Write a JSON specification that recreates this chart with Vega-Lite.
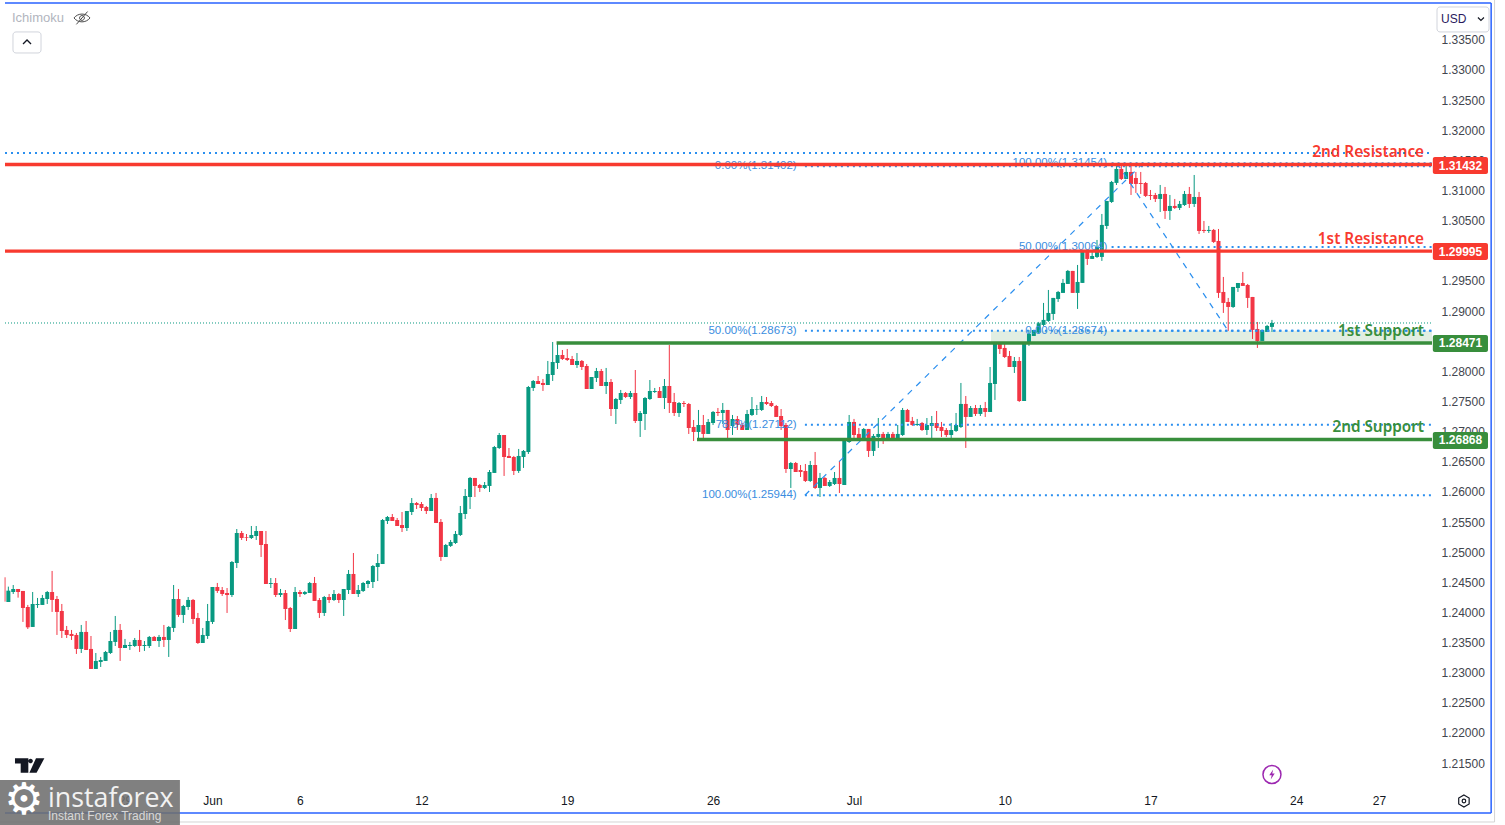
{"$schema":"https://vega.github.io/schema/vega-lite/v6.json","width":1505,"height":825,"padding":0,"autosize":{"type":"none"},"background":"#ffffff","view":{"stroke":null},
"config":{"axis":{"grid":false,"ticks":false,"domain":false}},
"datasets":{
"candles":[
{"i":1,"o":1.24583,"h":1.24594,"l":1.24179,"c":1.24179},{"i":2,"o":1.24173,"h":1.24428,"l":1.24173,"c":1.24361},{"i":3,"o":1.24339,"h":1.24455,"l":1.24306,"c":1.24389},{"i":4,"o":1.24389,"h":1.24389,"l":1.24245,"c":1.24339},{"i":5,"o":1.24356,"h":1.24356,"l":1.23842,"c":1.24074},{"i":6,"o":1.2409,"h":1.24124,"l":1.23725,"c":1.23753},{"i":7,"o":1.23759,"h":1.24339,"l":1.23759,"c":1.2414},{"i":8,"o":1.24124,"h":1.2424,"l":1.24074,"c":1.2414},{"i":9,"o":1.24124,"h":1.2429,"l":1.24124,"c":1.2424},{"i":10,"o":1.24223,"h":1.24356,"l":1.2414,"c":1.24339},
{"i":11,"o":1.24339,"h":1.24688,"l":1.24008,"c":1.24207},{"i":12,"o":1.24223,"h":1.24273,"l":1.23626,"c":1.24008},{"i":13,"o":1.24024,"h":1.2414,"l":1.23576,"c":1.23692},{"i":14,"o":1.23709,"h":1.23775,"l":1.23576,"c":1.23626},{"i":15,"o":1.23643,"h":1.23709,"l":1.23543,"c":1.23609},{"i":16,"o":1.23626,"h":1.23659,"l":1.23311,"c":1.23394},{"i":17,"o":1.23394,"h":1.23792,"l":1.23327,"c":1.23676},{"i":18,"o":1.23676,"h":1.23858,"l":1.23377,"c":1.23377},{"i":19,"o":1.23394,"h":1.23609,"l":1.23062,"c":1.23062},{"i":20,"o":1.23062,"h":1.23327,"l":1.23062,"c":1.23195},
{"i":21,"o":1.23178,"h":1.23261,"l":1.23095,"c":1.23211},{"i":22,"o":1.23195,"h":1.23361,"l":1.23195,"c":1.23344},{"i":23,"o":1.23327,"h":1.23676,"l":1.23311,"c":1.23526},{"i":24,"o":1.2351,"h":1.23941,"l":1.23443,"c":1.23709},{"i":25,"o":1.23709,"h":1.23808,"l":1.23195,"c":1.2341},{"i":26,"o":1.2341,"h":1.2356,"l":1.2341,"c":1.2346},{"i":27,"o":1.23443,"h":1.2351,"l":1.23377,"c":1.2346},{"i":28,"o":1.23443,"h":1.23576,"l":1.23427,"c":1.23543},{"i":29,"o":1.23543,"h":1.23709,"l":1.23344,"c":1.23443},{"i":30,"o":1.23443,"h":1.23526,"l":1.23361,"c":1.2346},
{"i":31,"o":1.23443,"h":1.23609,"l":1.2341,"c":1.23593},{"i":32,"o":1.23593,"h":1.23609,"l":1.23526,"c":1.23526},{"i":33,"o":1.23526,"h":1.23626,"l":1.23427,"c":1.23593},{"i":34,"o":1.23593,"h":1.23792,"l":1.23427,"c":1.23543},{"i":35,"o":1.23543,"h":1.23775,"l":1.23261,"c":1.23759},{"i":36,"o":1.23742,"h":1.24455,"l":1.23676,"c":1.24223},{"i":37,"o":1.24223,"h":1.24389,"l":1.23925,"c":1.23958},{"i":38,"o":1.23958,"h":1.24124,"l":1.23825,"c":1.24107},{"i":39,"o":1.2409,"h":1.24256,"l":1.24041,"c":1.24207},{"i":40,"o":1.24207,"h":1.24223,"l":1.23808,"c":1.23891},
{"i":41,"o":1.23908,"h":1.23991,"l":1.23477,"c":1.23493},{"i":42,"o":1.23493,"h":1.23742,"l":1.23493,"c":1.23626},{"i":43,"o":1.23609,"h":1.2414,"l":1.2356,"c":1.23858},{"i":44,"o":1.23842,"h":1.24422,"l":1.23808,"c":1.24422},{"i":45,"o":1.24422,"h":1.24489,"l":1.24323,"c":1.24356},{"i":46,"o":1.24372,"h":1.24422,"l":1.24273,"c":1.24306},{"i":47,"o":1.24322,"h":1.24405,"l":1.23991,"c":1.24289},{"i":48,"o":1.24289,"h":1.24853,"l":1.24256,"c":1.24837},{"i":49,"o":1.2482,"h":1.25384,"l":1.24737,"c":1.25318},{"i":50,"o":1.25318,"h":1.25351,"l":1.25202,"c":1.25235},
{"i":51,"o":1.25251,"h":1.25301,"l":1.25185,"c":1.2524},{"i":52,"o":1.25235,"h":1.25434,"l":1.25218,"c":1.25285},{"i":53,"o":1.25268,"h":1.25434,"l":1.25202,"c":1.25351},{"i":54,"o":1.25351,"h":1.25351,"l":1.2492,"c":1.25119},{"i":55,"o":1.25135,"h":1.25351,"l":1.24472,"c":1.24472},{"i":56,"o":1.24472,"h":1.24571,"l":1.24405,"c":1.24488},{"i":57,"o":1.24488,"h":1.24571,"l":1.24256,"c":1.24289},{"i":58,"o":1.24289,"h":1.24389,"l":1.24256,"c":1.24322},{"i":59,"o":1.24322,"h":1.24372,"l":1.23874,"c":1.24057},{"i":60,"o":1.24073,"h":1.2409,"l":1.23675,"c":1.23725},
{"i":61,"o":1.23725,"h":1.24422,"l":1.23725,"c":1.24339},{"i":62,"o":1.24339,"h":1.24372,"l":1.24256,"c":1.24306},{"i":63,"o":1.24306,"h":1.24356,"l":1.24289,"c":1.24339},{"i":64,"o":1.24322,"h":1.24505,"l":1.24322,"c":1.24488},{"i":65,"o":1.24488,"h":1.24588,"l":1.2419,"c":1.2419},{"i":66,"o":1.24206,"h":1.24239,"l":1.23908,"c":1.23991},{"i":67,"o":1.23991,"h":1.24273,"l":1.23941,"c":1.24256},{"i":68,"o":1.24256,"h":1.24306,"l":1.24156,"c":1.24206},{"i":69,"o":1.24206,"h":1.24372,"l":1.2419,"c":1.24306},{"i":70,"o":1.24306,"h":1.24322,"l":1.24156,"c":1.24206},
{"i":71,"o":1.24206,"h":1.24389,"l":1.23941,"c":1.24389},{"i":72,"o":1.24372,"h":1.24704,"l":1.24306,"c":1.24638},{"i":73,"o":1.24638,"h":1.24986,"l":1.24306,"c":1.24306},{"i":74,"o":1.24306,"h":1.24455,"l":1.24256,"c":1.24372},{"i":75,"o":1.24356,"h":1.24505,"l":1.24339,"c":1.24488},{"i":76,"o":1.24472,"h":1.24538,"l":1.24405,"c":1.24521},{"i":77,"o":1.24505,"h":1.24787,"l":1.24405,"c":1.2477},{"i":78,"o":1.24754,"h":1.24969,"l":1.24521,"c":1.2482},{"i":79,"o":1.24803,"h":1.2555,"l":1.24803,"c":1.25533},{"i":80,"o":1.25517,"h":1.256,"l":1.25467,"c":1.25583},
{"i":81,"o":1.25583,"h":1.25633,"l":1.25517,"c":1.25517},{"i":82,"o":1.25533,"h":1.25567,"l":1.25434,"c":1.25434},{"i":83,"o":1.2545,"h":1.25666,"l":1.25334,"c":1.25401},{"i":84,"o":1.25401,"h":1.25683,"l":1.25351,"c":1.25683},{"i":85,"o":1.25666,"h":1.25898,"l":1.25616,"c":1.25815},{"i":86,"o":1.25815,"h":1.25832,"l":1.25716,"c":1.25782},{"i":87,"o":1.25799,"h":1.25832,"l":1.25683,"c":1.25732},{"i":88,"o":1.25749,"h":1.25766,"l":1.25633,"c":1.25683},{"i":89,"o":1.25683,"h":1.25965,"l":1.25683,"c":1.25899},{"i":90,"o":1.25899,"h":1.25982,"l":1.25484,"c":1.25484},
{"i":91,"o":1.25501,"h":1.2555,"l":1.24854,"c":1.2492},{"i":92,"o":1.2492,"h":1.25136,"l":1.2492,"c":1.25119},{"i":93,"o":1.25103,"h":1.25202,"l":1.25086,"c":1.25169},{"i":94,"o":1.25152,"h":1.25351,"l":1.25136,"c":1.25302},{"i":95,"o":1.25285,"h":1.25766,"l":1.25268,"c":1.2565},{"i":96,"o":1.25633,"h":1.26048,"l":1.2555,"c":1.25932},{"i":97,"o":1.25915,"h":1.26247,"l":1.25716,"c":1.26231},{"i":98,"o":1.26231,"h":1.26231,"l":1.25915,"c":1.26098},{"i":99,"o":1.26114,"h":1.26131,"l":1.25998,"c":1.26065},{"i":100,"o":1.26065,"h":1.26164,"l":1.26048,"c":1.26114},
{"i":101,"o":1.26098,"h":1.26363,"l":1.25998,"c":1.2633},{"i":102,"o":1.26314,"h":1.26762,"l":1.26314,"c":1.26745},{"i":103,"o":1.26728,"h":1.26977,"l":1.26712,"c":1.26944},{"i":104,"o":1.26944,"h":1.26944,"l":1.26264,"c":1.26579},{"i":105,"o":1.26596,"h":1.26728,"l":1.26562,"c":1.26562},{"i":106,"o":1.26579,"h":1.26596,"l":1.2628,"c":1.26347},{"i":107,"o":1.26347,"h":1.26712,"l":1.26314,"c":1.26596},{"i":108,"o":1.26579,"h":1.26695,"l":1.26397,"c":1.26679},{"i":109,"o":1.26662,"h":1.27757,"l":1.26629,"c":1.2774},{"i":110,"o":1.27724,"h":1.27856,"l":1.27674,"c":1.2784},
{"i":111,"o":1.2784,"h":1.27923,"l":1.2779,"c":1.2779},{"i":112,"o":1.27807,"h":1.27873,"l":1.27674,"c":1.27773},{"i":113,"o":1.27773,"h":1.28172,"l":1.27773,"c":1.27956},{"i":114,"o":1.27939,"h":1.28487,"l":1.2784,"c":1.28155},{"i":115,"o":1.28138,"h":1.28487,"l":1.28039,"c":1.28271},{"i":116,"o":1.28271,"h":1.28354,"l":1.28188,"c":1.28205},{"i":117,"o":1.28221,"h":1.28371,"l":1.28172,"c":1.28188},{"i":118,"o":1.28205,"h":1.28255,"l":1.28105,"c":1.28105},{"i":119,"o":1.28105,"h":1.28304,"l":1.28056,"c":1.28172},{"i":120,"o":1.28172,"h":1.28188,"l":1.28022,"c":1.28072},
{"i":121,"o":1.28089,"h":1.28122,"l":1.27707,"c":1.27707},{"i":122,"o":1.27707,"h":1.27906,"l":1.27707,"c":1.27906},{"i":123,"o":1.2789,"h":1.28056,"l":1.27823,"c":1.28006},{"i":124,"o":1.28006,"h":1.28039,"l":1.27757,"c":1.27757},{"i":125,"o":1.27757,"h":1.28056,"l":1.27624,"c":1.27823},{"i":126,"o":1.27823,"h":1.27873,"l":1.27259,"c":1.27375},{"i":127,"o":1.27375,"h":1.27558,"l":1.27126,"c":1.27541},{"i":128,"o":1.27525,"h":1.27691,"l":1.27458,"c":1.27641},{"i":129,"o":1.27641,"h":1.27657,"l":1.27558,"c":1.27574},{"i":130,"o":1.27574,"h":1.27674,"l":1.27541,"c":1.27641},
{"i":131,"o":1.27641,"h":1.28022,"l":1.27143,"c":1.27176},{"i":132,"o":1.27176,"h":1.27342,"l":1.26911,"c":1.27309},{"i":133,"o":1.27292,"h":1.27574,"l":1.27027,"c":1.27558},{"i":134,"o":1.27541,"h":1.27856,"l":1.27525,"c":1.27674},{"i":135,"o":1.27657,"h":1.27724,"l":1.27641,"c":1.27674},{"i":136,"o":1.27674,"h":1.2774,"l":1.27558,"c":1.27558},{"i":137,"o":1.27558,"h":1.27873,"l":1.27375,"c":1.27757},{"i":138,"o":1.27757,"h":1.28437,"l":1.27309,"c":1.27475},{"i":139,"o":1.27491,"h":1.27641,"l":1.27259,"c":1.27309},{"i":140,"o":1.27309,"h":1.27491,"l":1.27243,"c":1.27475},
{"i":141,"o":1.27475,"h":1.27508,"l":1.27408,"c":1.27458},{"i":142,"o":1.27458,"h":1.27475,"l":1.26961,"c":1.2706},{"i":143,"o":1.27077,"h":1.27193,"l":1.26844,"c":1.26994},{"i":144,"o":1.26994,"h":1.27359,"l":1.26878,"c":1.2711},{"i":145,"o":1.2711,"h":1.27276,"l":1.26878,"c":1.26961},{"i":146,"o":1.26961,"h":1.27209,"l":1.26961,"c":1.2716},{"i":147,"o":1.27143,"h":1.27342,"l":1.2711,"c":1.27326},{"i":148,"o":1.27326,"h":1.27392,"l":1.27259,"c":1.27309},{"i":149,"o":1.27309,"h":1.27475,"l":1.27126,"c":1.27359},{"i":150,"o":1.27359,"h":1.27359,"l":1.26878,"c":1.27027},
{"i":151,"o":1.27093,"h":1.27276,"l":1.26944,"c":1.27209},{"i":152,"o":1.27209,"h":1.27259,"l":1.27027,"c":1.2711},{"i":153,"o":1.2711,"h":1.27143,"l":1.27027,"c":1.27027},{"i":154,"o":1.27027,"h":1.27359,"l":1.27027,"c":1.27292},{"i":155,"o":1.27276,"h":1.27574,"l":1.27259,"c":1.27375},{"i":156,"o":1.27365,"h":1.27442,"l":1.27276,"c":1.27375},{"i":157,"o":1.27359,"h":1.27591,"l":1.27342,"c":1.27491},{"i":158,"o":1.27491,"h":1.27574,"l":1.27442,"c":1.27458},{"i":159,"o":1.27475,"h":1.27508,"l":1.27408,"c":1.27425},{"i":160,"o":1.27425,"h":1.27442,"l":1.27243,"c":1.27243},
{"i":161,"o":1.27259,"h":1.27375,"l":1.27027,"c":1.27093},{"i":162,"o":1.2711,"h":1.27143,"l":1.26314,"c":1.2638},{"i":163,"o":1.2638,"h":1.26496,"l":1.26065,"c":1.26479},{"i":164,"o":1.26479,"h":1.26496,"l":1.2633,"c":1.2633},{"i":165,"o":1.26363,"h":1.26446,"l":1.26247,"c":1.2633},{"i":166,"o":1.26347,"h":1.26463,"l":1.26164,"c":1.26181},{"i":167,"o":1.26181,"h":1.26513,"l":1.26164,"c":1.26446},{"i":168,"o":1.26446,"h":1.26662,"l":1.26048,"c":1.26065},{"i":169,"o":1.26065,"h":1.26314,"l":1.25915,"c":1.26231},{"i":170,"o":1.26231,"h":1.26247,"l":1.26098,"c":1.26098},
{"i":171,"o":1.26098,"h":1.26197,"l":1.26081,"c":1.26164},{"i":172,"o":1.26131,"h":1.2633,"l":1.26114,"c":1.26231},{"i":173,"o":1.26231,"h":1.26513,"l":1.25982,"c":1.26131},{"i":174,"o":1.26114,"h":1.26878,"l":1.26114,"c":1.26878},{"i":175,"o":1.26828,"h":1.27276,"l":1.26812,"c":1.2716},{"i":176,"o":1.2716,"h":1.2721,"l":1.26894,"c":1.26944},{"i":177,"o":1.26961,"h":1.2706,"l":1.26878,"c":1.26878},{"i":178,"o":1.26878,"h":1.2706,"l":1.26878,"c":1.27044},{"i":179,"o":1.27044,"h":1.27044,"l":1.26579,"c":1.26679},{"i":180,"o":1.26679,"h":1.26961,"l":1.26596,"c":1.26928},
{"i":181,"o":1.26911,"h":1.27226,"l":1.26729,"c":1.26961},{"i":182,"o":1.26961,"h":1.26994,"l":1.26795,"c":1.26861},{"i":183,"o":1.26861,"h":1.26994,"l":1.26861,"c":1.26961},{"i":184,"o":1.26961,"h":1.26994,"l":1.26845,"c":1.26845},{"i":185,"o":1.26845,"h":1.2711,"l":1.26845,"c":1.26961},{"i":186,"o":1.26944,"h":1.27392,"l":1.26928,"c":1.27359},{"i":187,"o":1.27359,"h":1.27376,"l":1.2716,"c":1.2716},{"i":188,"o":1.27177,"h":1.27243,"l":1.27094,"c":1.2711},{"i":189,"o":1.2711,"h":1.2721,"l":1.27094,"c":1.27127},{"i":190,"o":1.27143,"h":1.2716,"l":1.27011,"c":1.27027},
{"i":191,"o":1.27027,"h":1.27226,"l":1.26944,"c":1.2711},{"i":192,"o":1.27094,"h":1.27259,"l":1.26878,"c":1.27143},{"i":193,"o":1.27143,"h":1.27342,"l":1.27011,"c":1.2706},{"i":194,"o":1.27077,"h":1.2716,"l":1.26911,"c":1.27011},{"i":195,"o":1.27027,"h":1.2706,"l":1.26911,"c":1.26944},{"i":196,"o":1.26944,"h":1.27143,"l":1.26894,"c":1.27027},{"i":197,"o":1.27011,"h":1.27309,"l":1.26994,"c":1.2711},{"i":198,"o":1.27077,"h":1.27807,"l":1.2706,"c":1.27459},{"i":199,"o":1.27459,"h":1.27591,"l":1.26729,"c":1.27243},{"i":200,"o":1.27243,"h":1.27425,"l":1.27243,"c":1.27392},
{"i":201,"o":1.27392,"h":1.27442,"l":1.27259,"c":1.27293},{"i":202,"o":1.27293,"h":1.27442,"l":1.27259,"c":1.27392},{"i":203,"o":1.27392,"h":1.27492,"l":1.27243,"c":1.27326},{"i":204,"o":1.27326,"h":1.28072,"l":1.27326,"c":1.27807},{"i":205,"o":1.2779,"h":1.28487,"l":1.27525,"c":1.28471},{"i":206,"o":1.28487,"h":1.28487,"l":1.28288,"c":1.28371},{"i":207,"o":1.28388,"h":1.28487,"l":1.28222,"c":1.28238},{"i":208,"o":1.28255,"h":1.28338,"l":1.28072,"c":1.28072},{"i":209,"o":1.28072,"h":1.28238,"l":1.27973,"c":1.28172},{"i":210,"o":1.28172,"h":1.28238,"l":1.27492,"c":1.27508},
{"i":211,"o":1.27508,"h":1.28471,"l":1.27508,"c":1.28454},{"i":212,"o":1.28471,"h":1.28686,"l":1.28421,"c":1.2862},{"i":213,"o":1.28587,"h":1.28686,"l":1.28587,"c":1.28686},{"i":214,"o":1.28643,"h":1.2882,"l":1.2862,"c":1.28797},{"i":215,"o":1.2877,"h":1.29135,"l":1.28753,"c":1.28853},{"i":216,"o":1.28836,"h":1.2935,"l":1.2882,"c":1.28969},{"i":217,"o":1.28952,"h":1.29218,"l":1.28853,"c":1.29218},{"i":218,"o":1.29201,"h":1.29334,"l":1.29151,"c":1.29317},{"i":219,"o":1.29301,"h":1.29533,"l":1.29301,"c":1.29467},{"i":220,"o":1.2945,"h":1.29682,"l":1.2945,"c":1.29666},
{"i":221,"o":1.29666,"h":1.29666,"l":1.29301,"c":1.29301},{"i":222,"o":1.29301,"h":1.29765,"l":1.29035,"c":1.29483},{"i":223,"o":1.29467,"h":1.29981,"l":1.29467,"c":1.29981},{"i":224,"o":1.29981,"h":1.29997,"l":1.29765,"c":1.29865},{"i":225,"o":1.29865,"h":1.29997,"l":1.29865,"c":1.29914},{"i":226,"o":1.29898,"h":1.3018,"l":1.29881,"c":1.30064},{"i":227,"o":1.29898,"h":1.30611,"l":1.29832,"c":1.30429},{"i":228,"o":1.30412,"h":1.30827,"l":1.30362,"c":1.30827},{"i":229,"o":1.3081,"h":1.31159,"l":1.30794,"c":1.31142},{"i":230,"o":1.31126,"h":1.31441,"l":1.31092,"c":1.31358},
{"i":231,"o":1.31358,"h":1.31441,"l":1.31175,"c":1.31192},{"i":232,"o":1.31192,"h":1.31424,"l":1.31192,"c":1.31308},{"i":233,"o":1.31308,"h":1.31424,"l":1.30926,"c":1.31109},{"i":234,"o":1.31208,"h":1.31308,"l":1.3096,"c":1.31109},{"i":235,"o":1.31125,"h":1.31308,"l":1.30943,"c":1.31109},{"i":236,"o":1.31125,"h":1.31142,"l":1.30893,"c":1.3091},{"i":237,"o":1.30926,"h":1.31009,"l":1.30843,"c":1.3091},{"i":238,"o":1.30926,"h":1.3096,"l":1.3081,"c":1.3086},{"i":239,"o":1.3086,"h":1.31092,"l":1.30644,"c":1.30943},{"i":240,"o":1.30943,"h":1.31059,"l":1.30528,"c":1.30661},
{"i":241,"o":1.30661,"h":1.30926,"l":1.30512,"c":1.30744},{"i":242,"o":1.30744,"h":1.3086,"l":1.30694,"c":1.30711},{"i":243,"o":1.30711,"h":1.30827,"l":1.30677,"c":1.30777},{"i":244,"o":1.3076,"h":1.30993,"l":1.30744,"c":1.30943},{"i":245,"o":1.30943,"h":1.31059,"l":1.30711,"c":1.30777},{"i":246,"o":1.30777,"h":1.31258,"l":1.30727,"c":1.30893},{"i":247,"o":1.30893,"h":1.30976,"l":1.30279,"c":1.30329},{"i":248,"o":1.30346,"h":1.30495,"l":1.30296,"c":1.30329},{"i":249,"o":1.30329,"h":1.30412,"l":1.30296,"c":1.30346},{"i":250,"o":1.30346,"h":1.30362,"l":1.3013,"c":1.30147},
{"i":251,"o":1.30163,"h":1.30362,"l":1.29218,"c":1.29301},{"i":252,"o":1.29317,"h":1.29566,"l":1.28969,"c":1.29135},{"i":253,"o":1.29151,"h":1.29218,"l":1.2867,"c":1.29068},{"i":254,"o":1.29068,"h":1.294,"l":1.29052,"c":1.294},{"i":255,"o":1.29383,"h":1.29466,"l":1.29317,"c":1.29466},{"i":256,"o":1.29466,"h":1.29649,"l":1.29417,"c":1.29417},{"i":257,"o":1.29433,"h":1.2945,"l":1.29052,"c":1.29218},{"i":258,"o":1.29234,"h":1.29234,"l":1.28537,"c":1.28687},{"i":259,"o":1.28703,"h":1.28819,"l":1.28388,"c":1.28504},{"i":260,"o":1.28504,"h":1.28687,"l":1.28504,"c":1.28687},
{"i":261,"o":1.28654,"h":1.2877,"l":1.28654,"c":1.28753},{"i":262,"o":1.28737,"h":1.28853,"l":1.28654,"c":1.28803}],
"levels":[
{"kind":"res","a":1.31,"b":294.93,"p":1.31432,"value":"1.31432","bl":295.1,"br":306.45,"mid":300.8,"top":1.31557,"bot":1.31274,"pm":1.31415,"name":"2nd Resistance","np":1.31639},
{"kind":"res","a":1.31,"b":294.93,"p":1.29995,"value":"1.29995","bl":295.1,"br":306.45,"mid":300.8,"top":1.3013,"bot":1.29847,"pm":1.29988,"name":"1st Resistance","np":1.30196},
{"kind":"sup","a":114.8,"b":294.93,"p":1.28471,"value":"1.28471","bl":295.1,"br":306.45,"mid":300.8,"top":1.28603,"bot":1.28321,"pm":1.28462,"name":"1st Support","np":1.28669},
{"kind":"sup","a":143.7,"b":294.93,"p":1.26868,"value":"1.26868","bl":295.1,"br":306.45,"mid":300.8,"top":1.26994,"bot":1.26712,"pm":1.26853,"name":"2nd Support","np":1.27077}],
"fib":[
{"a":165.9,"b":294.93,"p":1.31402,"label":"0.00%(1.31402)","lx":164.2},
{"a":229,"b":294.93,"p":1.31454,"label":"100.00%(1.31454)","lx":228.1},
{"a":229,"b":294.93,"p":1.30064,"label":"50.00%(1.30064)","lx":228.1},
{"a":229,"b":294.93,"p":1.28674,"label":"0.00%(1.28674)","lx":228.1},
{"a":165.9,"b":294.93,"p":1.28673,"label":"50.00%(1.28673)","lx":164.2},
{"a":165.9,"b":294.93,"p":1.27112,"label":"78.6%(1.27112)","lx":164.2},
{"a":165.9,"b":294.93,"p":1.25944,"label":"100.00%(1.25944)","lx":164.2}],
"diag":[{"a":165.9,"pa":1.25944,"b":235.5,"pb":1.31454},{"a":230.1,"pa":1.31454,"b":252.96,"pb":1.28674}]
},
"layer":[
{"data":{"values":[{"a":204.2,"b":294.93,"p1":1.28673,"p2":1.28471}]},"mark":{"type":"rect","color":"#388e3c","opacity":0.15},
"encoding":{"x":{"field":"a","type":"quantitative","title":null,"scale":{"domain":[0.28,309.95],"nice":false,"zero":false},
"axis":{"orient":"bottom","offset":-33,"tickCount":40,"values":[26,44,62,87,117,147,176,207,237,267,284],"labelExpr":"{'26':'29','44':'Jun','62':'6','87':'12','117':'19','147':'26','176':'Jul','207':'10','237':'17','267':'24','284':'27'}[''+datum.value]","labelFont":"Liberation Sans","labelFontSize":12,"labelColor":"#131722","labelPadding":3,"labelOverlap":false,"labelFlush":false,"labelBound":false,"title":null}},
"x2":{"field":"b"},
"y":{"field":"p1","type":"quantitative","title":null,"scale":{"domain":[1.20473,1.34161],"nice":false,"zero":false},
"axis":{"orient":"right","offset":-64,"tickCount":40,"values":[1.335,1.33,1.325,1.32,1.315,1.31,1.305,1.3,1.295,1.29,1.285,1.28,1.275,1.27,1.265,1.26,1.255,1.25,1.245,1.24,1.235,1.23,1.225,1.22,1.215],"format":".5f","labelFont":"Liberation Sans","labelFontSize":12,"labelColor":"#42454e","labelPadding":0,"labelAlign":"left","labelOverlap":false,"labelFlush":false,"labelBound":false,"title":null}},
"y2":{"field":"p2"}}},
{"data":{"name":"candles"},"mark":{"type":"rule","strokeWidth":1},
"encoding":{"x":{"field":"i","type":"quantitative","scale":{"domain":[0.28,309.95],"nice":false,"zero":false},"title":null},"y":{"field":"h","type":"quantitative","scale":{"domain":[1.20473,1.34161],"nice":false,"zero":false},"title":null},"y2":{"field":"l"},"color":{"condition":{"test":"datum.c>=datum.o","value":"#089981"},"value":"#f23645"}}},
{"data":{"name":"candles"},"mark":{"type":"rule","strokeWidth":4},
"encoding":{"x":{"field":"i","type":"quantitative","scale":{"domain":[0.28,309.95],"nice":false,"zero":false},"title":null},"y":{"field":"o","type":"quantitative","scale":{"domain":[1.20473,1.34161],"nice":false,"zero":false},"title":null},"y2":{"field":"c"},"color":{"condition":{"test":"datum.c>=datum.o","value":"#089981"},"value":"#f23645"}}},
{"data":{"values":[{"a":1.31,"b":294.93,"p":1.28802}]},"mark":{"type":"rule","strokeWidth":1,"strokeDash":[1,2],"color":"#089981"},
"encoding":{"x":{"field":"a","type":"quantitative","scale":{"domain":[0.28,309.95],"nice":false,"zero":false},"title":null},"x2":{"field":"b"},"y":{"field":"p","type":"quantitative","scale":{"domain":[1.20473,1.34161],"nice":false,"zero":false},"title":null}}},
{"data":{"values":[{"a":1.31,"b":294.93,"p":1.31623}]},"mark":{"type":"rule","strokeWidth":2,"strokeDash":[2,4],"color":"#2b8fef"},
"encoding":{"x":{"field":"a","type":"quantitative","scale":{"domain":[0.28,309.95],"nice":false,"zero":false},"title":null},"x2":{"field":"b"},"y":{"field":"p","type":"quantitative","scale":{"domain":[1.20473,1.34161],"nice":false,"zero":false},"title":null}}},
{"data":{"name":"fib"},"mark":{"type":"rule","strokeWidth":2,"strokeDash":[2,4],"color":"#2b8fef"},
"encoding":{"x":{"field":"a","type":"quantitative","scale":{"domain":[0.28,309.95],"nice":false,"zero":false},"title":null},"x2":{"field":"b"},"y":{"field":"p","type":"quantitative","scale":{"domain":[1.20473,1.34161],"nice":false,"zero":false},"title":null}}},
{"data":{"name":"diag"},"mark":{"type":"rule","strokeWidth":1.2,"strokeDash":[6,6],"color":"#2b8fef"},
"encoding":{"x":{"field":"a","type":"quantitative","scale":{"domain":[0.28,309.95],"nice":false,"zero":false},"title":null},"x2":{"field":"b"},"y":{"field":"pa","type":"quantitative","scale":{"domain":[1.20473,1.34161],"nice":false,"zero":false},"title":null},"y2":{"field":"pb"}}},
{"data":{"name":"fib"},"mark":{"type":"text","align":"right","baseline":"middle","font":"Liberation Sans","fontSize":11.5,"color":"#3a8de0"},
"encoding":{"x":{"field":"lx","type":"quantitative","scale":{"domain":[0.28,309.95],"nice":false,"zero":false},"title":null},"y":{"field":"p","type":"quantitative","scale":{"domain":[1.20473,1.34161],"nice":false,"zero":false},"title":null},"text":{"field":"label"}}},
{"data":{"name":"levels"},"mark":{"type":"rule","strokeWidth":3.4},
"encoding":{"x":{"field":"a","type":"quantitative","scale":{"domain":[0.28,309.95],"nice":false,"zero":false},"title":null},"x2":{"field":"b"},"y":{"field":"p","type":"quantitative","scale":{"domain":[1.20473,1.34161],"nice":false,"zero":false},"title":null},"color":{"field":"kind","type":"nominal","scale":{"domain":["res","sup"],"range":["#f83a2f","#388e3c"]},"legend":null}}},
{"data":{"name":"levels"},"mark":{"type":"rect","cornerRadius":2},
"encoding":{"x":{"field":"bl","type":"quantitative","scale":{"domain":[0.28,309.95],"nice":false,"zero":false},"title":null},"x2":{"field":"br"},"y":{"field":"top","type":"quantitative","scale":{"domain":[1.20473,1.34161],"nice":false,"zero":false},"title":null},"y2":{"field":"bot"},"color":{"field":"kind","type":"nominal","scale":{"domain":["res","sup"],"range":["#f83a2f","#388e3c"]},"legend":null}}},
{"data":{"name":"levels"},"mark":{"type":"text","align":"center","baseline":"middle","font":"Liberation Sans","fontSize":12,"fontWeight":"bold","color":"#ffffff"},
"encoding":{"x":{"field":"mid","type":"quantitative","scale":{"domain":[0.28,309.95],"nice":false,"zero":false},"title":null},"y":{"field":"pm","type":"quantitative","scale":{"domain":[1.20473,1.34161],"nice":false,"zero":false},"title":null},"text":{"field":"value"}}},
{"data":{"name":"levels"},"mark":{"type":"text","align":"right","baseline":"middle","font":"Noto Sans","fontSize":15.3,"fontWeight":600},
"encoding":{"x":{"datum":293.3,"type":"quantitative","scale":{"domain":[0.28,309.95],"nice":false,"zero":false},"title":null},"y":{"field":"np","type":"quantitative","scale":{"domain":[1.20473,1.34161],"nice":false,"zero":false},"title":null},"text":{"field":"name"},"color":{"field":"kind","type":"nominal","scale":{"domain":["res","sup"],"range":["#f83a2f","#388e3c"]},"legend":null}}},
{"data":{"values":[{"a":0.28,"b":1.23,"p1":1.34161,"p2":1.20473}]},"mark":{"type":"rect","color":"#ffffff"},
"encoding":{"x":{"field":"a","type":"quantitative","scale":{"domain":[0.28,309.95],"nice":false,"zero":false},"title":null},"x2":{"field":"b"},"y":{"field":"p1","type":"quantitative","scale":{"domain":[1.20473,1.34161],"nice":false,"zero":false},"title":null},"y2":{"field":"p2"}}},
{"data":{"values":[{"a":1.31,"b":307.1,"p1":1.34112,"p2":1.34112},{"a":1.31,"b":307.1,"p1":1.20672,"p2":1.20672},{"a":307.1,"b":307.1,"p1":1.34112,"p2":1.20672}]},"mark":{"type":"rule","strokeWidth":1.5,"color":"#2962ff"},
"encoding":{"x":{"field":"a","type":"quantitative","scale":{"domain":[0.28,309.95],"nice":false,"zero":false},"title":null},"x2":{"field":"b"},"y":{"field":"p1","type":"quantitative","scale":{"domain":[1.20473,1.34161],"nice":false,"zero":false},"title":null},"y2":{"field":"p2"}}},
{"data":{"values":[{"a":307.8,"b":307.8,"p1":1.34161,"p2":1.20523},{"a":0.28,"b":307.8,"p1":1.20523,"p2":1.20523}]},"mark":{"type":"rule","strokeWidth":1,"color":"#d4d4d4"},
"encoding":{"x":{"field":"a","type":"quantitative","scale":{"domain":[0.28,309.95],"nice":false,"zero":false},"title":null},"x2":{"field":"b"},"y":{"field":"p1","type":"quantitative","scale":{"domain":[1.20473,1.34161],"nice":false,"zero":false},"title":null},"y2":{"field":"p2"}}},
{"data":{"values":[{"a":295.96,"b":306.66,"p1":1.34045,"p2":1.33631},{"a":2.95,"b":8.72,"p1":1.33631,"p2":1.33282}]},"mark":{"type":"rect","fill":"#ffffff","stroke":"#d1d4dc","strokeWidth":1,"cornerRadius":3},
"encoding":{"x":{"field":"a","type":"quantitative","scale":{"domain":[0.28,309.95],"nice":false,"zero":false},"title":null},"x2":{"field":"b"},"y":{"field":"p1","type":"quantitative","scale":{"domain":[1.20473,1.34161],"nice":false,"zero":false},"title":null},"y2":{"field":"p2"}}},
{"data":{"values":[{"a":296.8,"p":1.33846,"t":"USD"}]},"mark":{"type":"text","align":"left","baseline":"middle","font":"Liberation Sans","fontSize":12,"color":"#2a1a5e"},
"encoding":{"x":{"field":"a","type":"quantitative","scale":{"domain":[0.28,309.95],"nice":false,"zero":false},"title":null},"y":{"field":"p","type":"quantitative","scale":{"domain":[1.20473,1.34161],"nice":false,"zero":false},"title":null},"text":{"field":"t"}}},
{"data":{"values":[{"a":2.75,"p":1.33863,"t":"Ichimoku"}]},"mark":{"type":"text","align":"left","baseline":"middle","font":"Liberation Sans","fontSize":13,"color":"#b2b5be"},
"encoding":{"x":{"field":"a","type":"quantitative","scale":{"domain":[0.28,309.95],"nice":false,"zero":false},"title":null},"y":{"field":"p","type":"quantitative","scale":{"domain":[1.20473,1.34161],"nice":false,"zero":false},"title":null},"text":{"field":"t"}}},
{"data":{"values":[{"a":17.15,"p":1.33863}]},"mark":{"type":"point","shape":"M-1,0 C-.5,-.65 .5,-.65 1,0 C.5,.65 -.5,.65 -1,0 Z M.3,0 A.3,.3 0 1,1 -.3,0 A.3,.3 0 1,1 .3,0 Z M-.7,.8 L.7,-.8","size":256,"filled":false,"stroke":"#4a4a4a","strokeWidth":1,"opacity":1},
"encoding":{"x":{"field":"a","type":"quantitative","scale":{"domain":[0.28,309.95],"nice":false,"zero":false},"title":null},"y":{"field":"p","type":"quantitative","scale":{"domain":[1.20473,1.34161],"nice":false,"zero":false},"title":null}}},
{"data":{"values":[{"a":5.84,"p":1.33465}]},"mark":{"type":"point","shape":"M-1,.5 L0,-.5 L1,.5","size":64,"filled":false,"stroke":"#131722","strokeWidth":1.3,"opacity":1},
"encoding":{"x":{"field":"a","type":"quantitative","scale":{"domain":[0.28,309.95],"nice":false,"zero":false},"title":null},"y":{"field":"p","type":"quantitative","scale":{"domain":[1.20473,1.34161],"nice":false,"zero":false},"title":null}}},
{"data":{"values":[{"a":305,"p":1.33846}]},"mark":{"type":"point","shape":"M-1,-.5 L0,.5 L1,-.5","size":36,"filled":false,"stroke":"#131722","strokeWidth":1.2,"opacity":1},
"encoding":{"x":{"field":"a","type":"quantitative","scale":{"domain":[0.28,309.95],"nice":false,"zero":false},"title":null},"y":{"field":"p","type":"quantitative","scale":{"domain":[1.20473,1.34161],"nice":false,"zero":false},"title":null}}},
{"data":{"values":[{"a":6.45,"p":1.2146}]},"mark":{"type":"point","shape":"M-1,-.48 H-.11 V.48 H-.62 V-.14 H-1 Z M.19,-.3 A.15,.15 0 1,1 -.11,-.3 A.15,.15 0 1,1 .19,-.3 Z M.4,-.48 H.96 L.44,.48 H-.04 Z","size":900,"filled":true,"fill":"#131722","stroke":null,"opacity":1},
"encoding":{"x":{"field":"a","type":"quantitative","scale":{"domain":[0.28,309.95],"nice":false,"zero":false},"title":null},"y":{"field":"p","type":"quantitative","scale":{"domain":[1.20473,1.34161],"nice":false,"zero":false},"title":null}}},
{"data":{"values":[{"a":262,"p":1.21311}]},"mark":{"type":"point","shape":"circle","size":324,"filled":false,"stroke":"#9c27b0","strokeWidth":1.5,"opacity":1},
"encoding":{"x":{"field":"a","type":"quantitative","scale":{"domain":[0.28,309.95],"nice":false,"zero":false},"title":null},"y":{"field":"p","type":"quantitative","scale":{"domain":[1.20473,1.34161],"nice":false,"zero":false},"title":null}}},
{"data":{"values":[{"a":262,"p":1.21311}]},"mark":{"type":"point","shape":"M.25,-1 L-.55,.15 H-.05 L-.25,1 L.55,-.2 H.05 Z","size":100,"filled":true,"fill":"#9c27b0","stroke":null,"opacity":1},
"encoding":{"x":{"field":"a","type":"quantitative","scale":{"domain":[0.28,309.95],"nice":false,"zero":false},"title":null},"y":{"field":"p","type":"quantitative","scale":{"domain":[1.20473,1.34161],"nice":false,"zero":false},"title":null}}},
{"data":{"values":[{"a":301.5,"p":1.20871}]},"mark":{"type":"point","shape":"M0,-1 L.87,-.5 L.87,.5 L0,1 L-.87,.5 L-.87,-.5 Z M.3,0 A.3,.3 0 1,1 -.3,0 A.3,.3 0 1,1 .3,0 Z","size":144,"filled":false,"stroke":"#131722","strokeWidth":1.2,"opacity":1},
"encoding":{"x":{"field":"a","type":"quantitative","scale":{"domain":[0.28,309.95],"nice":false,"zero":false},"title":null},"y":{"field":"p","type":"quantitative","scale":{"domain":[1.20473,1.34161],"nice":false,"zero":false},"title":null}}},
{"data":{"values":[{"a":0.28,"b":37.3,"p1":1.2122,"p2":1.20473}]},"mark":{"type":"rect","color":"#6e6e6e","opacity":0.88},
"encoding":{"x":{"field":"a","type":"quantitative","scale":{"domain":[0.28,309.95],"nice":false,"zero":false},"title":null},"x2":{"field":"b"},"y":{"field":"p1","type":"quantitative","scale":{"domain":[1.20473,1.34161],"nice":false,"zero":false},"title":null},"y2":{"field":"p2"}}},
{"data":{"values":[{"a":5.22,"p":1.20871,"t":"⚙"}]},"mark":{"type":"text","align":"center","baseline":"middle","font":"DejaVu Sans","fontSize":44,"color":"#ffffff"},
"encoding":{"x":{"field":"a","type":"quantitative","scale":{"domain":[0.28,309.95],"nice":false,"zero":false},"title":null},"y":{"field":"p","type":"quantitative","scale":{"domain":[1.20473,1.34161],"nice":false,"zero":false},"title":null},"text":{"field":"t"}}},
{"data":{"values":[{"a":10.16,"p":1.20904,"t":"instaforex"}]},"mark":{"type":"text","align":"left","baseline":"middle","font":"Open Sans","fontSize":26.8,"color":"#f2f2f2"},
"encoding":{"x":{"field":"a","type":"quantitative","scale":{"domain":[0.28,309.95],"nice":false,"zero":false},"title":null},"y":{"field":"p","type":"quantitative","scale":{"domain":[1.20473,1.34161],"nice":false,"zero":false},"title":null},"text":{"field":"t"}}},
{"data":{"values":[{"a":10.16,"p":1.20622,"t":"Instant Forex Trading"}]},"mark":{"type":"text","align":"left","baseline":"middle","font":"Liberation Sans","fontSize":12,"color":"#d8d8d8"},
"encoding":{"x":{"field":"a","type":"quantitative","scale":{"domain":[0.28,309.95],"nice":false,"zero":false},"title":null},"y":{"field":"p","type":"quantitative","scale":{"domain":[1.20473,1.34161],"nice":false,"zero":false},"title":null},"text":{"field":"t"}}}
]}
